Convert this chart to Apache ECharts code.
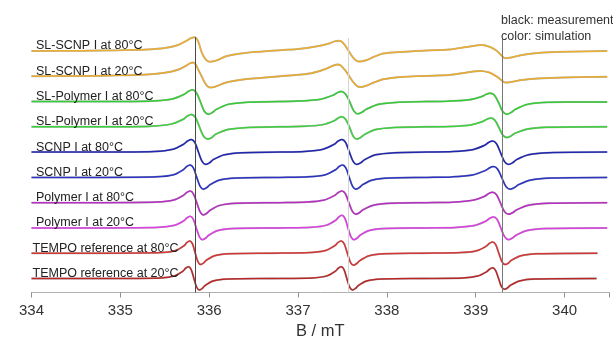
<!DOCTYPE html>
<html>
<head>
<meta charset="utf-8">
<script src="https://cdn.jsdelivr.net/npm/echarts@6/dist/echarts.min.js"></script>
<style>
  html, body { margin: 0; padding: 0; background: #fff; }
  #chart { width: 613px; height: 340px; }
</style>
</head>
<body>
<div id="chart"></div>
<script>
// EPR spectra (first-derivative signal, a.u.) vs. magnetic field B in mT.
// Each trace: [B, signal] pairs; traces are stacked top to bottom.
const slScnp80 = [[334.0,0],[334.6,0.3],[335.0,0.8],[335.3,1.5],[335.5,3],[335.65,6],[335.75,10.5],[335.80,13],[335.835,13.7],[335.865,11.5],[335.89,6],[335.91,0],[335.935,-5],[335.97,-9.3],[336.01,-10.7],[336.05,-10.3],[336.1,-8.8],[336.2,-5],[336.4,-2],[336.6,-0.5],[336.8,0.8],[337.0,2],[337.2,4.5],[337.35,7.5],[337.41,9.6],[337.455,10.3],[337.49,9.4],[337.53,5.5],[337.57,0],[337.61,-5.5],[337.645,-9],[337.68,-10.5],[337.72,-10.3],[337.78,-8.8],[337.85,-6],[337.96,-2.5],[338.15,-1],[338.4,0.3],[338.7,1.5],[338.9,4],[339.07,6],[339.16,4],[339.24,0],[339.29,-4.5],[339.33,-7.3],[339.4,-6.5],[339.52,-4],[339.7,-2],[340.0,-0.8],[340.48,0]];
const slScnp20 = [[334.0,0],[334.6,0.3],[335.0,0.9],[335.3,1.8],[335.5,3.5],[335.65,6.5],[335.73,10],[335.785,13],[335.82,13.7],[335.85,11.5],[335.88,6],[335.915,0],[335.945,-5.5],[335.975,-9.5],[336.01,-11.3],[336.05,-10.9],[336.1,-9.3],[336.2,-6],[336.4,-3],[336.6,-1.5],[336.8,0],[337.0,1.5],[337.15,3],[337.3,7],[337.4,10.8],[337.444,11.7],[337.48,10.8],[337.53,6],[337.57,1],[337.61,-4.5],[337.65,-8.7],[337.69,-10.7],[337.73,-10.5],[337.79,-8.8],[337.86,-6],[337.96,-3],[338.15,-0.7],[338.4,0.3],[338.7,1.2],[338.9,3.8],[339.05,5.3],[339.15,3.8],[339.24,-0.5],[339.29,-4],[339.33,-6.3],[339.4,-5.7],[339.52,-3.8],[339.7,-2.2],[340.0,-1.2],[340.48,-0.5]];
const slPolymer80 = [[334.0,0],[334.8,0],[335.36,0.6],[335.585,2.6],[335.72,7.3],[335.765,10.2],[335.81,11.7],[335.855,8.9],[335.90,0],[335.945,-9.7],[335.99,-12.7],[336.035,-11],[336.08,-7.9],[336.215,-2.8],[336.44,-0.6],[336.8,0],[337.016,0.5],[337.25,2.2],[337.39,6.2],[337.439,8.7],[337.485,10],[337.533,7.6],[337.58,0],[337.627,-9.3],[337.673,-12.3],[337.72,-10.7],[337.77,-7.6],[337.91,-2.7],[338.14,-0.6],[338.45,0],[338.69,0.4],[338.93,1.8],[339.07,5.1],[339.116,7.2],[339.163,8.3],[339.21,6.3],[339.257,-1],[339.304,-10],[339.351,-12.7],[339.398,-11],[339.445,-7.9],[339.586,-2.8],[339.82,-0.8],[340.1,-0.5],[340.48,-0.4]];
const slPolymer20 = [[334.0,0],[334.8,0],[335.34,0.6],[335.57,2.7],[335.71,7.6],[335.752,10.7],[335.80,12.3],[335.846,9.3],[335.89,0],[335.936,-9.3],[335.985,-12.3],[336.03,-10.7],[336.07,-7.6],[336.21,-2.7],[336.44,-0.6],[336.8,0],[337.07,0.5],[337.28,2.2],[337.41,6.2],[337.45,8.7],[337.493,10],[337.535,7.6],[337.578,0],[337.62,-9.3],[337.662,-12.3],[337.705,-10.7],[337.75,-7.6],[337.875,-2.7],[338.09,-0.6],[338.45,0],[338.72,0.4],[338.945,1.9],[339.08,5.4],[339.126,7.6],[339.171,8.7],[339.215,6.6],[339.26,-0.5],[339.305,-8.3],[339.351,-10.7],[339.395,-9.3],[339.44,-6.6],[339.575,-2.4],[339.80,-0.5],[340.48,0]];
const scnp80 = [[334.0,0],[334.8,0],[335.38,0.6],[335.59,2.8],[335.713,7.9],[335.755,11],[335.796,12.7],[335.838,9.7],[335.879,0],[335.92,-9.3],[335.962,-12.3],[336.004,-10.7],[336.045,-7.6],[336.17,-2.7],[336.377,-0.6],[336.8,0],[337.07,0.6],[337.28,2.8],[337.41,7.9],[337.45,11],[337.493,12.7],[337.535,9.7],[337.578,0],[337.62,-9.3],[337.662,-12.3],[337.705,-10.7],[337.75,-7.6],[337.875,-2.7],[338.09,-0.6],[338.45,0],[338.74,0.5],[338.964,2.4],[339.10,6.8],[339.144,9.6],[339.189,11],[339.234,8.4],[339.279,-0.5],[339.324,-9.5],[339.369,-12.3],[339.414,-10.7],[339.46,-7.6],[339.594,-2.7],[339.82,-0.6],[340.48,0]];
const scnp20 = [[334.0,0],[334.8,0],[335.41,0.6],[335.60,2.7],[335.71,7.8],[335.748,10.9],[335.785,12.5],[335.822,9.5],[335.86,0],[335.898,-9],[335.935,-11.8],[335.972,-10.3],[336.01,-7.3],[336.12,-2.6],[336.31,-0.6],[336.8,0],[337.12,0.6],[337.31,2.7],[337.425,7.8],[337.463,10.9],[337.50,12.5],[337.538,9.5],[337.576,0],[337.614,-9],[337.651,-11.8],[337.689,-10.3],[337.727,-7.3],[337.84,-2.6],[338.03,-0.6],[338.45,0],[338.73,0.5],[338.965,2.4],[339.106,6.7],[339.153,9.4],[339.20,10.8],[339.247,8.2],[339.294,-0.5],[339.341,-9.2],[339.388,-11.8],[339.435,-10.3],[339.482,-7.3],[339.623,-2.6],[339.858,-0.6],[340.48,0]];
const polymer80 = [[334.0,0],[334.8,0],[335.41,0.6],[335.60,2.6],[335.71,7.3],[335.748,10.2],[335.785,11.7],[335.822,8.9],[335.86,0],[335.898,-9.3],[335.935,-12.3],[335.972,-10.7],[336.01,-7.6],[336.12,-2.7],[336.31,-0.6],[336.8,0],[337.10,0.6],[337.296,2.6],[337.414,7.3],[337.454,10.2],[337.493,11.7],[337.533,8.9],[337.572,0],[337.612,-8.8],[337.651,-11.6],[337.69,-10.1],[337.73,-7.2],[337.85,-2.6],[338.046,-0.6],[338.45,0],[338.74,0.5],[338.964,2.3],[339.10,6.4],[339.144,9],[339.189,10.4],[339.234,7.9],[339.279,-0.5],[339.324,-9],[339.369,-11.6],[339.414,-10.1],[339.46,-7.2],[339.594,-2.6],[339.82,-0.6],[340.48,0]];
const polymer20 = [[334.0,0],[334.8,0],[335.435,0.6],[335.61,2.6],[335.715,7.2],[335.75,10.1],[335.785,11.6],[335.82,8.8],[335.855,0],[335.89,-8.9],[335.925,-11.7],[335.96,-10.2],[335.995,-7.3],[336.10,-2.6],[336.275,-0.6],[336.8,0],[337.151,0.6],[337.322,2.8],[337.425,7.8],[337.459,11],[337.493,12.6],[337.528,9.6],[337.562,0],[337.596,-8.9],[337.63,-11.7],[337.665,-10.2],[337.699,-7.3],[337.802,-2.6],[337.973,-0.6],[338.45,0],[338.774,0.5],[338.986,2.4],[339.114,6.8],[339.156,9.6],[339.20,11],[339.242,8.4],[339.284,-0.5],[339.326,-8.9],[339.369,-11.7],[339.412,-10.2],[339.454,-7.3],[339.58,-2.6],[339.794,-0.6],[340.48,0]];
const tempo80 = [[334.0,0],[334.8,0],[335.468,0.6],[335.624,2.7],[335.718,7.6],[335.749,10.7],[335.78,12.3],[335.812,9.3],[335.843,0],[335.874,-8.6],[335.905,-11.3],[335.937,-9.8],[335.968,-7],[336.062,-2.5],[336.218,-0.6],[336.7,0],[337.135,0.6],[337.31,2.7],[337.415,7.6],[337.45,10.7],[337.485,12.3],[337.52,9.3],[337.555,0],[337.59,-9.1],[337.624,-12],[337.66,-10.4],[337.695,-7.4],[337.80,-2.6],[337.975,-0.6],[338.4,0],[338.83,0.6],[339.01,2.5],[339.117,7],[339.153,9.8],[339.189,11.3],[339.225,8.6],[339.26,0],[339.296,-8.6],[339.332,-11.3],[339.368,-9.8],[339.403,-7],[339.51,-2.5],[339.69,-0.6],[340.37,0]];
const tempo20 = [[334.0,0],[334.8,0],[335.456,0.6],[335.61,2.6],[335.704,7.3],[335.735,10.3],[335.766,11.8],[335.797,9],[335.828,0],[335.859,-8.7],[335.89,-11.5],[335.921,-10],[335.952,-7.1],[336.045,-2.5],[336.20,-0.6],[336.7,0],[337.165,0.6],[337.325,2.6],[337.421,7.3],[337.453,10.3],[337.485,11.8],[337.517,9],[337.549,0],[337.581,-8.7],[337.613,-11.5],[337.645,-10],[337.677,-7.1],[337.773,-2.5],[337.933,-0.6],[338.4,0],[338.852,0.5],[339.02,2.4],[339.122,6.7],[339.156,9.4],[339.189,10.8],[339.223,8.2],[339.257,0],[339.29,-8.2],[339.324,-10.8],[339.358,-9.4],[339.392,-6.7],[339.493,-2.4],[339.662,-0.5],[340.36,0]];

const traceNames = [
  'SL-SCNP I at 80°C', 'SL-SCNP I at 20°C',
  'SL-Polymer I at 80°C', 'SL-Polymer I at 20°C',
  'SCNP I at 80°C', 'SCNP I at 20°C',
  'Polymer I at 80°C', 'Polymer I at 20°C',
  'TEMPO reference at 80°C', 'TEMPO reference at 20°C'
];
const traceData = [slScnp80, slScnp20, slPolymer80, slPolymer20, scnp80, scnp20, polymer80, polymer20, tempo80, tempo20];

// x-axis ticks (mT) and the field positions of the guide lines
const fieldTicks = [334, 335, 336, 337, 338, 339, 340];
const guideFields = [335.84, 337.56, 339.30];

// styling
const simColors = ['#EAAE30', '#E8AB2E', '#36CC36', '#3DD03D', '#2026B0', '#2A33C2', '#B82EC2', '#DC40E2', '#D43636', '#B82828'];
const FONT = '"Liberation Sans", Arial, Helvetica, sans-serif';
const STACK_BASE = 14;      // vertical offset of the lowest trace (a.u.)
const STACK_STEP = 25.28;   // spacing between stacked traces (a.u.)
const Y_MAX = 255.5;

const chart = echarts.init(document.getElementById('chart'), null, { renderer: 'canvas' });

const offsets = traceData.map((_, k) => STACK_BASE + STACK_STEP * (traceData.length - 1 - k));
const shifted = traceData.map((d, k) => d.map(p => [p[0], p[1] + offsets[k]]));

const series = [];
// measured spectra (black), drawn underneath
shifted.forEach((d, k) => {
  series.push({
    type: 'line', name: 'meas ' + traceNames[k], data: d,
    showSymbol: false, smooth: 0.3, silent: true,
    lineStyle: { color: '#000', width: 1.9, opacity: 0.3 },
    z: 2
  });
});
// simulated spectra (colour)
shifted.forEach((d, k) => {
  series.push({
    type: 'line', name: traceNames[k], data: d,
    showSymbol: false, smooth: 0.3, silent: true,
    lineStyle: { color: simColors[k], width: 1.5 },
    z: 3
  });
});
// vertical guide lines
series.push({
  type: 'line', data: [], silent: true, z: 4,
  markLine: {
    silent: true, symbol: ['none', 'none'], animation: false,
    label: { show: false },
    data: [
      [{ coord: [guideFields[0], 0], lineStyle: { color: '#4a4a4a', width: 1, type: 'solid' } }, { coord: [guideFields[0], Y_MAX] }],
      [{ coord: [guideFields[1], 0], lineStyle: { color: '#d4d4d4', width: 1, type: 'solid' } }, { coord: [guideFields[1], Y_MAX - 1] }],
      [{ coord: [guideFields[2], 0], lineStyle: { color: '#777', width: 1, type: 'solid' } }, { coord: [guideFields[2], Y_MAX - 2] }]
    ]
  }
});

chart.setOption({
  animation: false,
  backgroundColor: '#fff',
  grid: { left: 31.5, right: 4, top: 37, bottom: 47.5, containLabel: false, outerBoundsMode: 'none' },
  xAxis: {
    type: 'value', min: 334, max: 340.5, interval: 1,
    name: 'B / mT', nameLocation: 'middle', nameGap: 27,
    nameTextStyle: { fontFamily: FONT, fontSize: 16.5, color: '#333' },
    axisLine: { show: true, lineStyle: { color: '#b0b0b0', width: 1 } },
    axisTick: { show: true, length: 5, lineStyle: { color: '#909090' } },
    axisLabel: {
      fontFamily: FONT, fontSize: 15, color: '#333', margin: 11,
      formatter: v => (fieldTicks.indexOf(v) >= 0 ? String(v) : '')
    },
    splitLine: { show: false }
  },
  yAxis: { type: 'value', min: 0, max: Y_MAX, show: false, splitLine: { show: false } },
  series: series
});

// trace labels at the left end of each baseline, plus the colour key
const graphics = traceNames.map((name, k) => {
  const pt = chart.convertToPixel({ gridIndex: 0 }, [334, offsets[k]]);
  return {
    type: 'text', x: pt[0] + (k >= 8 ? 1 : 4.5), y: pt[1] + 1.5, z: 10,
    style: { text: name, fontFamily: FONT, fontSize: 12.5, fill: '#222', verticalAlign: 'bottom', align: 'left' }
  };
});
graphics.push({
  type: 'text', x: 501, y: 21, z: 10,
  style: { text: 'black: measurement', fontFamily: FONT, fontSize: 12.5, fill: '#333', verticalAlign: 'middle' }
});
graphics.push({
  type: 'text', x: 501, y: 36.5, z: 10,
  style: { text: 'color: simulation', fontFamily: FONT, fontSize: 12.5, fill: '#333', verticalAlign: 'middle' }
});
chart.setOption({ graphic: graphics });
</script>
</body>
</html>
